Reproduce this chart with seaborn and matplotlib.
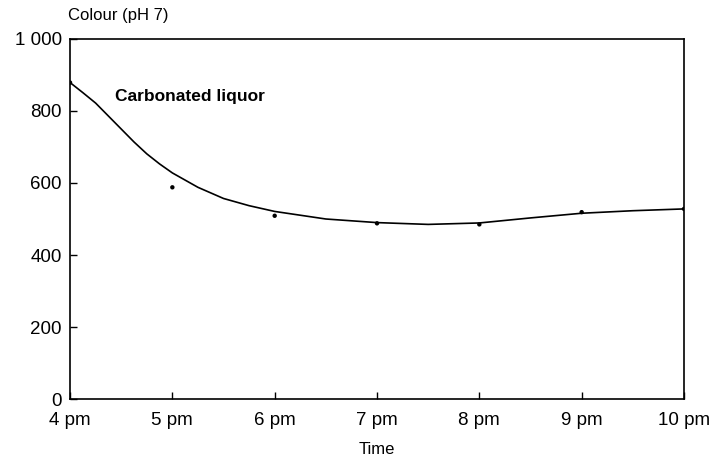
import matplotlib
matplotlib.use("Agg")
import matplotlib.pyplot as plt
import seaborn as sns
import pandas as pd

# hours after 4 pm
hour_ticks = [0, 1, 2, 3, 4, 5, 6]
hour_labels = ["4 pm", "5 pm", "6 pm", "7 pm", "8 pm", "9 pm", "10 pm"]

# measured colour values (dots)
meas_hours = [0, 1, 2, 3, 4, 5, 6]
meas_colour = [879, 588, 509, 488, 485, 519, 528]

# smooth curve
curve_hours = [0, 0.125, 0.25, 0.375, 0.5, 0.625, 0.75, 0.875, 1.0, 1.25, 1.5, 1.75,
               2.0, 2.5, 3.0, 3.5, 4.0, 4.5, 5.0, 5.5, 6.0]
curve_colour = [879, 851, 822, 786, 750, 714, 681, 653, 628, 588, 557, 537,
                521, 500, 490, 485, 489, 503, 516, 523, 528]

y_ticks = [0, 200, 400, 600, 800, 1000]
y_labels = ["0", "200", "400", "600", "800", "1 000"]

sns.set_style("white")
plt.rcParams["font.family"] = ["Liberation Sans", "DejaVu Sans"]
plt.rcParams["text.color"] = "black"
plt.rcParams["axes.labelcolor"] = "black"

meas = pd.DataFrame({"hour": meas_hours, "colour": meas_colour})
curve = pd.DataFrame({"hour": curve_hours, "colour": curve_colour})

fig = plt.figure(figsize=(7.11, 4.68), dpi=100)
ax = fig.add_axes([0.0985, 0.1474, 0.8635, 0.7693])

sns.lineplot(data=curve, x="hour", y="colour", ax=ax, color="black", linewidth=1.2)
sns.scatterplot(data=meas, x="hour", y="colour", ax=ax, color="black", s=10, edgecolor="none", zorder=5)

ax.set_xlim(0, 6)
ax.set_ylim(0, 1000)
ax.set_xticks(hour_ticks)
ax.set_xticklabels(hour_labels)
ax.set_yticks(y_ticks)
ax.set_yticklabels(y_labels)
ax.tick_params(direction="in", length=5, width=1, colors="black", labelsize=13.5,
               bottom=True, left=True, top=False, right=False)
ax.tick_params(axis="x", pad=9)
ax.tick_params(axis="y", pad=6)

for s in ax.spines.values():
    s.set_color("black")
    s.set_linewidth(1.2)

ax.set_xlabel("Time", fontsize=12, labelpad=10)
ax.set_ylabel("")
fig.text(0.095, 0.966, "Colour (pH 7)", fontsize=12, ha="left", va="center")
ax.text(0.44, 839, "Carbonated liquor", fontsize=12.5, fontweight="bold", ha="left", va="center")

fig.savefig("out.png", dpi=100)
